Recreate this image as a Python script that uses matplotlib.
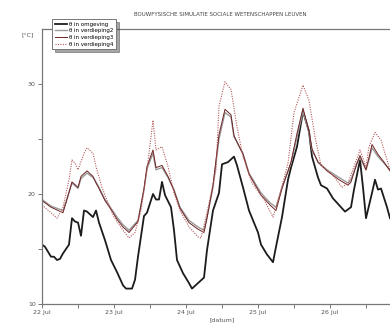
import matplotlib
matplotlib.use('Agg')
import matplotlib.pyplot as plt

# Simulated temperatures, time in hours from 22 Jul 00:00
t_omg = [0, 1, 3, 4, 5, 6, 7, 9, 10, 11, 12, 13, 14, 15, 17, 18, 19, 21, 23, 25,
         27, 28, 30, 31, 32, 34, 35, 37, 38, 39, 40, 41, 43, 44, 45, 47, 49, 50, 52, 54,
         55, 57, 59, 60, 62, 64, 65, 67, 69, 72, 73, 75, 77, 78, 80, 82, 83, 85, 87, 89,
         90, 92, 93, 95, 97, 99, 101, 103, 104, 106, 107, 108, 110, 111, 112, 113, 115, 116]
T_omg = [15.4, 15.2, 14.3, 14.3, 14.0, 14.1, 14.6, 15.4, 17.8, 17.5, 17.4, 16.2, 18.5, 18.4, 17.9, 18.5, 17.4, 15.8, 14.0, 12.9,
         11.7, 11.4, 11.4, 12.2, 14.3, 18.0, 18.3, 20.0, 19.5, 19.5, 21.1, 19.9, 18.8, 16.7, 14.0, 12.8, 11.9, 11.4, 11.9, 12.4,
         14.9, 18.5, 20.1, 22.7, 22.9, 23.4, 22.6, 20.6, 18.5, 16.5, 15.4, 14.5, 13.8, 15.2, 17.9, 21.3, 22.4, 24.3, 27.5, 25.7,
         23.4, 21.5, 20.8, 20.5, 19.6, 19.0, 18.4, 18.8, 20.4, 23.1, 20.6, 17.8, 20.1, 21.3, 20.4, 20.5, 18.8, 17.8]

t_verd = [0, 3, 7, 8, 10, 12, 13, 15, 17, 18, 19, 21, 23, 25, 27, 29, 32, 34, 35, 37,
          38, 40, 42, 44, 46, 49, 52, 54, 55, 57, 59, 61, 63, 64, 67, 69, 73, 76, 78, 80,
          83, 85, 87, 89, 90, 92, 95, 99, 102, 103, 105, 106, 108, 109, 110, 112, 114, 116]
T_verd2 = [19.5, 18.9, 18.5, 19.3, 21.0, 20.5, 21.4, 21.9, 21.5, 21.1, 20.6, 19.5, 18.7, 17.9, 17.2, 16.7, 17.6, 20.4, 22.3, 23.7,
           22.2, 22.4, 21.5, 20.4, 18.8, 17.6, 17.0, 16.7, 17.9, 20.6, 25.0, 27.4, 27.0, 25.2, 23.7, 21.9, 20.1, 19.2, 18.8, 20.6,
           22.8, 25.2, 27.5, 25.6, 24.0, 22.9, 22.2, 21.5, 21.0, 21.3, 22.8, 23.3, 22.2, 23.1, 24.2, 23.4, 22.8, 22.2]
T_verd3 = [19.4, 18.8, 18.3, 19.2, 21.1, 20.6, 21.6, 22.1, 21.6, 21.0, 20.5, 19.4, 18.6, 17.7, 17.0, 16.5, 17.5, 20.5, 22.5, 24.0,
           22.4, 22.6, 21.6, 20.3, 18.7, 17.4, 16.8, 16.5, 17.8, 20.8, 25.4, 27.7, 27.2, 25.3, 23.6, 21.8, 19.9, 19.0, 18.5, 20.5,
           22.9, 25.5, 27.8, 25.7, 24.1, 22.9, 22.1, 21.3, 20.8, 21.1, 22.8, 23.5, 22.2, 23.3, 24.5, 23.6, 22.9, 22.1]

t_verd4 = [0, 3, 5, 7, 9, 10, 11, 12, 14, 15, 17, 18, 20, 22, 24, 27, 29, 31, 33, 35,
           37, 38, 40, 42, 44, 46, 49, 52, 53, 55, 58, 59, 61, 63, 65, 67, 70, 74, 77, 79,
           82, 84, 87, 89, 91, 93, 97, 100, 102, 104, 106, 108, 109, 111, 113, 115, 116]
T_verd4 = [19.0, 18.3, 17.8, 18.8, 21.3, 23.1, 22.8, 22.2, 23.7, 24.2, 23.7, 22.5, 20.6, 19.2, 17.9, 16.7, 16.0, 16.5, 18.5, 22.2,
           26.7, 24.0, 24.3, 22.5, 20.1, 18.5, 17.0, 16.1, 16.0, 18.3, 22.2, 28.0, 30.2, 29.5, 26.1, 23.4, 21.0, 19.5, 17.9, 19.7,
           22.8, 27.4, 29.9, 28.5, 25.2, 22.6, 21.7, 20.6, 21.0, 22.5, 24.0, 22.5, 24.3, 25.6, 24.9, 23.1, 22.2]

day_ticks = [0, 24, 48, 72, 96]
day_labels = ['22 Jul', '23 Jul', '24 Jul', '25 Jul', '26 Jul']

fig = plt.figure(figsize=(3.9, 3.24), dpi=100)
ax = fig.add_axes([42 / 390, 20 / 324, 360 / 390, 275 / 324])

ax.plot(t_omg, T_omg, color='#1c1c1c', lw=1.3, label='θ in omgeving')
ax.plot(t_verd, T_verd2, color='#9a9a9a', lw=1.0, label='θ in verdieping2')
ax.plot(t_verd, T_verd3, color='#6e2323', lw=0.7, label='θ in verdieping3')
ax.plot(t_verd4, T_verd4, color='#b55a5a', lw=0.8, ls=(0, (1, 1.2)), label='θ in verdieping4')

ax.set_xlim(0, 120)
ax.set_ylim(10, 35)
ax.set_xticks(day_ticks)
ax.set_xticklabels(day_labels)
ax.set_xticks([12, 36, 60, 84, 108], minor=True)
ax.set_yticks([10, 20, 30])
ax.set_yticks([15, 25], minor=True)

for s in ax.spines.values():
    s.set_color('#777777')
    s.set_linewidth(0.9)
ax.tick_params(which='both', length=3, width=0.7, color='#777777',
               labelsize=4.5, labelcolor='#555555', pad=1.5)

fig.text(220 / 390, 1 - 14 / 324, 'BOUWFYSISCHE SIMULATIE SOCIALE WETENSCHAPPEN LEUVEN',
         ha='center', va='center', fontsize=4.0, color='#444444')
fig.text(28 / 390, 1 - 35 / 324, '[°C]', ha='center', va='center', fontsize=4.5, color='#555555')
fig.text(222 / 390, 1 - 320 / 324, '[datum]', ha='center', va='center', fontsize=4.5, color='#555555')

leg = fig.legend(loc='upper left', bbox_to_anchor=(49 / 390, 1 - 16 / 324), fontsize=4,
                 frameon=True, fancybox=False, shadow=True, edgecolor='#777777',
                 handlelength=2.2, labelspacing=0.3, borderpad=0.5, handletextpad=0.4)
leg.get_frame().set_linewidth(0.7)

fig.savefig('out.png', dpi=100)
